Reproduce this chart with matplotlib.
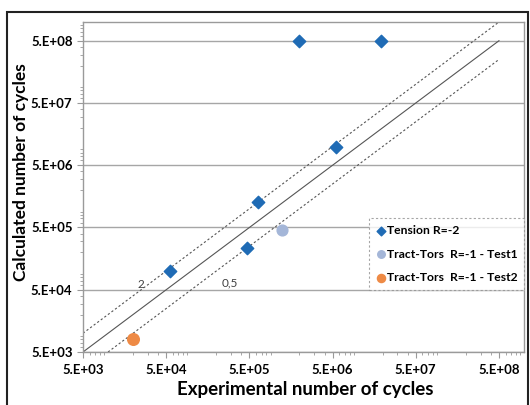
import matplotlib
matplotlib.use('Agg')
import matplotlib.pyplot as plt
import matplotlib.ticker as mticker
from matplotlib.patches import Rectangle

# data (experimental, calculated)
tension_exp = [1.95e6, 1.9e7, 5.5e6, 6.3e5, 4.7e5, 5.6e4]
tension_calc = [5.0e8, 5.0e8, 1.0e7, 1.3e6, 2.3e5, 1.0e5]
test1_exp = [1.23e6]
test1_calc = [4.6e5]
test2_exp = [2.0e4]
test2_calc = [8.1e3]

ticks = [5e3, 5e4, 5e5, 5e6, 5e7, 5e8]
tick_labels = ['5.E+03', '5.E+04', '5.E+05', '5.E+06', '5.E+07', '5.E+08']

plt.rcParams['font.family'] = ['Lato', 'DejaVu Sans']

fig = plt.figure(figsize=(5.3, 4.05), dpi=100)
ax = fig.add_axes([83/530, 1-352/405, (524-83)/530, (352-22)/405])

ax.set_xscale('log')
ax.set_yscale('log')
ax.set_xlim(5e3, 1e9)
ax.set_ylim(5e3, 1e9)

for t in ticks:
    ax.axhline(t, color='#a6a6a6', lw=1.0, zorder=0)

# 1:1 and factor-2 scatter lines
ax.plot([5e3, 5e8], [5e3, 5e8], color='#555555', lw=0.8, zorder=1)
ax.plot([5e3, 5e8], [1e4, 1e9], color='#555555', lw=0.8, ls=(0, (2, 2)), zorder=1)
ax.plot([1e4, 5e8], [5e3, 2.5e8], color='#555555', lw=0.8, ls=(0, (2, 2)), zorder=1)
ax.text(2.5e4, 6.0e4, '2', fontsize=8.5, color='#404040', ha='center', va='center')
ax.text(2.9e5, 6.5e4, '0,5', fontsize=8.5, color='#404040', ha='center', va='center')

ax.scatter(tension_exp, tension_calc, marker='D', s=40, color='#1f6bb5', label='Tension R=-2', zorder=3)
ax.scatter(test1_exp, test1_calc, marker='o', s=60, color='#a4b6d8', label='Tract-Tors  R=-1 - Test1', zorder=3)
ax.scatter(test2_exp, test2_calc, marker='o', s=70, color='#ee8a45', label='Tract-Tors  R=-1 - Test2', zorder=3)

ax.xaxis.set_major_locator(mticker.FixedLocator(ticks))
ax.yaxis.set_major_locator(mticker.FixedLocator(ticks))
ax.xaxis.set_major_formatter(mticker.FixedFormatter(tick_labels))
ax.yaxis.set_major_formatter(mticker.FixedFormatter(tick_labels))
ax.xaxis.set_minor_formatter(mticker.NullFormatter())
ax.yaxis.set_minor_formatter(mticker.NullFormatter())
ax.tick_params(which='both', colors='#999999', labelcolor='black', labelsize=9.5, direction='out')
ax.tick_params(which='major', length=4)
ax.tick_params(which='minor', length=2.5)
ax.tick_params(axis='x', pad=5)
for lab in ax.get_xticklabels() + ax.get_yticklabels():
    lab.set_fontweight('bold')

for s in ax.spines.values():
    s.set_color('#9a9a9a')
    s.set_linewidth(1.0)

ax.set_xlabel('Experimental number of cycles', fontsize=13.5, fontweight='bold', va='center')
ax.set_ylabel('Calculated number of cycles', fontsize=12.5, fontweight='bold', va='center')
ax.xaxis.set_label_coords((305-83)/441, (352-389)/330)
ax.yaxis.set_label_coords((21-83)/441, (352-172)/330)

leg = ax.legend(loc='lower right', bbox_to_anchor=(1.0, (352-290)/330),
                prop={'weight': 'bold', 'size': 8.7}, frameon=True, fancybox=False,
                handletextpad=0.1, handlelength=0.8, borderpad=0.55, labelspacing=1.05,
                markerscale=0.7, borderaxespad=0)
leg.get_frame().set_edgecolor('#909090')
leg.get_frame().set_linestyle((0, (2, 2)))
leg.get_frame().set_linewidth(0.8)

# outer chart frame
fig.patches.append(Rectangle((7/530, -0.05), (528-7)/530, 1.05-12/405, transform=fig.transFigure,
                             fill=False, edgecolor='#222222', lw=1.5))

fig.savefig('out.png', dpi=100)
